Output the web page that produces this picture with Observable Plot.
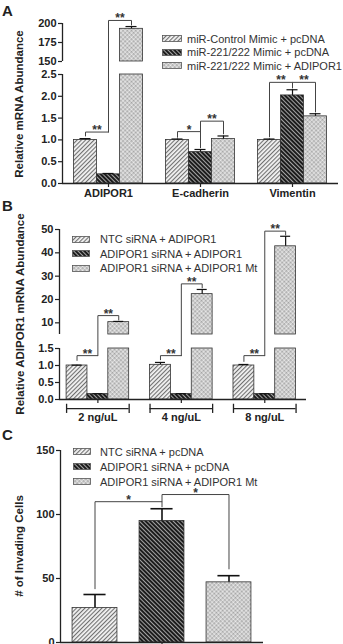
<!DOCTYPE html>
<html>
<head>
<meta charset="utf-8">
<script src="https://cdn.jsdelivr.net/npm/d3@7"></script>
<script src="https://cdn.jsdelivr.net/npm/@observablehq/plot@0.6"></script>
<style>
  body { margin: 0; background: #fff; }
  #fig { position: relative; width: 343px; height: 644px; overflow: hidden;
         font-family: "Liberation Sans", Arial, sans-serif; color: #222; }
  .panel { position: absolute; left: 0; }
  .tag { position: absolute; left: 2px; font-weight: bold; font-size: 15px; line-height: 15px; }
  .ytitle { position: absolute; transform: translate(-50%, -50%) rotate(-90deg);
            white-space: nowrap; font-weight: bold; font-size: 11.5px; line-height: 12px; }
  .legend { position: absolute; font-size: 11px; color: #333; }
  .legend .row { display: flex; align-items: center; white-space: nowrap; }
  .legend svg { display: block; flex: none; }
</style>
</head>
<body>
<svg width="0" height="0" style="position:absolute">
  <defs>
    <!-- light bars with "/" hatching -->
    <pattern id="hatchLight" patternUnits="userSpaceOnUse" width="3" height="3" patternTransform="rotate(45)">
      <rect width="3" height="3" fill="#f3f3f3"/>
      <rect width="1.1" height="3" fill="#707070"/>
    </pattern>
    <!-- dark bars with "\" hatching -->
    <pattern id="hatchDark" patternUnits="userSpaceOnUse" width="3" height="3" patternTransform="rotate(-45)">
      <rect width="3" height="3" fill="#1c1c1c"/>
      <rect width="0.9" height="3" fill="#b4b4b4"/>
    </pattern>
    <!-- grey stippled bars -->
    <pattern id="dotGray" patternUnits="userSpaceOnUse" width="3" height="3" patternTransform="rotate(45)">
      <rect width="3" height="3" fill="#cdcdcd"/>
      <rect width="1.5" height="1.5" fill="#a3a3a3"/>
      <rect x="1.5" y="1.5" width="1.5" height="1.5" fill="#ebebeb"/>
    </pattern>
  </defs>
</svg>

<div id="fig">
  <div class="panel" id="pA" style="top:0px"></div>
  <div class="panel" id="pB" style="top:200px"></div>
  <div class="panel" id="pC" style="top:425px"></div>

  <div class="tag" style="top:3px">A</div>
  <div class="tag" style="top:198px">B</div>
  <div class="tag" style="top:427px">C</div>

  <div class="ytitle" style="left:19px;top:104px">Relative mRNA Abundance</div>
  <div class="ytitle" style="left:20px;top:314px">Relative ADIPOR1 mRNA Abundance</div>
  <div class="ytitle" style="left:19px;top:546px"># of Invading Cells</div>

  <div class="legend" id="legA" style="left:162px;top:32px"></div>
  <div class="legend" id="legB" style="left:72px;top:232px"></div>
  <div class="legend" id="legC" style="left:73px;top:444px"></div>
</div>

<script>
// ---- Panel A: mRNA abundance after miR-221/222 mimic ----
const genesA = ["ADIPOR1", "E-cadherin", "Vimentin"];
const seriesA = ["miR-Control Mimic + pcDNA", "miR-221/222 Mimic + pcDNA", "miR-221/222 Mimic + ADIPOR1"];
const meanA = [[1.00, 0.21, 193], [1.00, 0.72, 1.02], [1.00, 2.02, 1.54]];
const errA = [[0.03, 0.02, 3], [0.02, 0.06, 0.07], [0.02, 0.13, 0.06]];
const ticksA = [0, 0.5, 1, 1.5, 2, 2.5, 150, 175, 200];
const segmentsA = [[0, 2.5], [150, 200]];
// significance brackets: group, bar a, bar b, bracket level, foot under a, foot under b
const sigA = [
  {g: 0, a: 0, b: 1, top: 1.18, footA: 1.09, footB: 1.18, label: "**"},
  {g: 0, a: 1, b: 2, top: 204, footA: 1.18, footB: 198, label: "**"},
  {g: 1, a: 0, b: 1, top: 1.19, footA: 1.06, footB: 0.82, label: "*"},
  {g: 1, a: 1, b: 2, top: 1.43, footA: 1.19, footB: 1.14, label: "**"},
  {g: 2, a: 0, b: 1, top: 2.32, footA: 1.07, footB: 2.19, label: "**"},
  {g: 2, a: 1, b: 2, top: 2.32, footA: 2.32, footB: 1.64, label: "**"}
];

// ---- Panel B: ADIPOR1 abundance by plasmid dose ----
const dosesB = ["2 ng/uL", "4 ng/uL", "8 ng/uL"];
const seriesB = ["NTC siRNA + ADIPOR1", "ADIPOR1 siRNA + ADIPOR1", "ADIPOR1 siRNA + ADIPOR1 Mt"];
const meanB = [[1.00, 0.16, 10.3], [1.02, 0.16, 22.3], [1.00, 0.16, 42.8]];
const errB = [[0.01, 0.01, 0.3], [0.07, 0.01, 2.0], [0.03, 0.01, 4.3]];
const ticksB = [0, 0.5, 1, 1.5, 10, 20, 30, 40, 50];
const segmentsB = [[0, 1.5], [5, 50]];
const sigB = [
  {g: 0, a: 0, b: 1, top: 1.29, footA: 1.15, footB: 1.29, label: "**"},
  {g: 0, a: 1, b: 2, top: 13.1, footA: 1.29, footB: 11.2, label: "**"},
  {g: 1, a: 0, b: 1, top: 1.29, footA: 1.17, footB: 1.29, label: "**"},
  {g: 1, a: 1, b: 2, top: 26.7, footA: 1.29, footB: 25.0, label: "**"},
  {g: 2, a: 0, b: 1, top: 1.29, footA: 1.12, footB: 1.29, label: "**"},
  {g: 2, a: 1, b: 2, top: 49.3, footA: 1.29, footB: 47.8, label: "**"}
];

// ---- Panel C: invasion assay ----
const seriesC = ["NTC siRNA + pcDNA", "ADIPOR1 siRNA + pcDNA", "ADIPOR1 siRNA + ADIPOR1 Mt"];
const meanC = [[27, 95, 47]];
const errC = [[10.5, 9.5, 5.2]];
const ticksC = [0, 50, 100, 150];
const segmentsC = [[0, 150]];
const sigC = [
  {g: 0, a: 0, b: 1, top: 110, footA: 42, footB: 106, label: "*"},
  {g: 0, a: 1, b: 2, top: 115.6, footA: 110, footB: 57.5, label: "*"}
];

const fills = ["url(#hatchLight)", "url(#hatchDark)", "url(#dotGray)"];
const ink = "#222";

function makePanel(o) {
  const bars = [];
  o.means.forEach((row, g) => row.forEach((v, s) =>
    bars.push({g, s, v, e: o.errs[g][s], x: o.xOf(g, s)})));

  // split bars across the axis break
  const pieces = [];
  bars.forEach(b => o.segments.forEach(([lo, hi], i) => {
    const last = i === o.segments.length - 1;
    if (b.v > lo) pieces.push({...b, y1: lo, y2: last ? b.v : Math.min(b.v, hi)});
  }));

  const paths = [];
  o.sig.forEach((d, i) => {
    const xa = o.xOf(d.g, d.a), xb = o.xOf(d.g, d.b);
    paths.push({id: i, x: xa, y: d.footA}, {id: i, x: xa, y: d.top},
               {id: i, x: xb, y: d.top}, {id: i, x: xb, y: d.footB});
  });

  const x0 = o.xDomain[0];
  const hb = o.bw / 2, hc = o.cap / 2;
  const marks = [
    Plot.rect(pieces, {x1: d => d.x - hb, x2: d => d.x + hb, y1: "y1", y2: "y2",
      fill: d => fills[d.s], stroke: "#333", strokeWidth: 0.8}),
    Plot.ruleX(bars, {x: "x", y1: "v", y2: d => d.v + d.e, stroke: "#111", strokeWidth: o.errWidth}),
    Plot.ruleY(bars, {y: d => d.v + d.e, x1: d => d.x - hc, x2: d => d.x + hc,
      stroke: "#111", strokeWidth: o.errWidth}),
    Plot.line(paths, {x: "x", y: "y", z: "id", stroke: "#444", strokeWidth: 1, curve: "linear"}),
    Plot.text(o.sig, {x: d => (o.xOf(d.g, d.a) + o.xOf(d.g, d.b)) / 2, y: "top", text: "label",
      lineAnchor: "bottom", dy: 2, fontSize: 12, fontWeight: "bold", fill: "#333"}),
    Plot.ruleX(o.segments, {x: () => x0, y1: d => d[0], y2: d => d[1], stroke: ink, strokeWidth: 1.3}),
    Plot.ruleY([0], {stroke: ink, strokeWidth: 1.3}),
    Plot.axisY({ticks: o.ticks, tickFormat: o.fmt, tickSize: 4, tickPadding: 2, label: null,
      fontSize: 11, fontWeight: "bold", stroke: ink, strokeWidth: 1.2, fill: ink}),
    Plot.axisX({ticks: o.xTicks, tickFormat: o.xFmt, tickSize: 4, tickPadding: o.xPad, label: null,
      fontSize: 11, fontWeight: "bold", stroke: ink, strokeWidth: 1.2, fill: ink})
  ];
  if (o.under) {
    const spans = o.xTicks.map(g => ({x1: o.xOf(g, 0) - hb, x2: o.xOf(g, 2) + hb}));
    marks.push(
      Plot.ruleY(spans, {y: () => o.under.y, x1: "x1", x2: "x2", stroke: ink, strokeWidth: 1.3}),
      Plot.ruleX(spans.flatMap(d => [d.x1, d.x2]), {x: d => d, y1: () => o.under.cap[0],
        y2: () => o.under.cap[1], stroke: ink, strokeWidth: 1.3})
    );
  }
  return Plot.plot({
    width: 343, height: o.height,
    marginLeft: o.marginLeft, marginRight: o.marginRight,
    marginTop: 0, marginBottom: o.height - o.yRange[0],
    x: {type: "linear", domain: o.xDomain, label: null},
    y: {type: "linear", domain: o.yDomain, range: o.yRange, label: null},
    style: {fontFamily: '"Liberation Sans", Arial, sans-serif', color: ink, background: "transparent", overflow: "visible"},
    marks
  });
}

const bwAB = 0.25;
const inGroup = (g, s) => g + (s - 1) * bwAB;

document.getElementById("pA").append(makePanel({
  means: meanA, errs: errA, segments: segmentsA, sig: sigA, ticks: ticksA,
  fmt: d => d < 10 ? d.toFixed(1) : String(d),
  xOf: inGroup, bw: bwAB, cap: 0.12, errWidth: 1.2,
  xDomain: [-0.5, 2.5], marginLeft: 62, marginRight: 5,
  height: 200, yDomain: [0, 2.5, 150, 200], yRange: [183, 74, 61, 23],
  xTicks: [0, 1, 2], xFmt: i => genesA[i], xPad: 2
}));

document.getElementById("pB").append(makePanel({
  means: meanB, errs: errB, segments: segmentsB, sig: sigB, ticks: ticksB,
  fmt: d => d < 5 ? d.toFixed(1) : String(d),
  xOf: inGroup, bw: bwAB, cap: 0.12, errWidth: 1.2,
  xDomain: [-0.46, 2.5], marginLeft: 59, marginRight: 37,
  height: 228, yDomain: [0, 1.5, 5, 50], yRange: [199, 148, 134, 29],
  xTicks: [0, 1, 2], xFmt: i => dosesB[i], xPad: 10,
  under: {y: -0.27, cap: [-0.14, -0.41]}
}));

document.getElementById("pC").append(makePanel({
  means: meanC, errs: errC, segments: segmentsC, sig: sigC, ticks: ticksC,
  fmt: d => String(d),
  xOf: (g, s) => s, bw: 0.67, cap: 0.33, errWidth: 1.6,
  xDomain: [-0.515, 2.515], marginLeft: 60, marginRight: 80,
  height: 219, yDomain: [0, 150], yRange: [217, 25],
  xTicks: [1], xFmt: () => "", xPad: 2
}));

// legends
function legend(id, labels, rowHeight, swatchW, gap) {
  const el = document.getElementById(id);
  labels.forEach((t, i) => {
    const row = document.createElement("div");
    row.className = "row";
    row.style.height = rowHeight + "px";
    row.innerHTML = `<svg width="${swatchW}" height="7" style="margin-right:${gap}px">
      <rect x="0.5" y="0.5" width="${swatchW - 1}" height="6" fill="${fills[i]}" stroke="#555" stroke-width="0.8"/></svg>`;
    row.append(document.createTextNode(t));
    el.append(row);
  });
}
legend("legA", seriesA, 13.5, 20, 5);
legend("legB", seriesB, 14.5, 18, 10);
legend("legC", seriesC, 15, 18, 9);
</script>
</body>
</html>
